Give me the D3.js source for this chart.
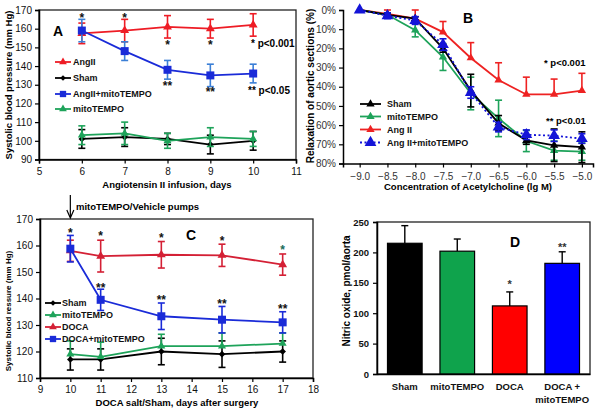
<!DOCTYPE html>
<html><head><meta charset="utf-8">
<script src="https://cdn.jsdelivr.net/npm/d3@7"></script>
<style>
body{margin:0;background:#fff}
text{font-family:"Liberation Sans",Arial,Helvetica,sans-serif}
</style>
</head><body>
<svg id="chart" width="600" height="412"></svg>
<script>
// ---------------- DATA ----------------
// Panel A
const daysA = [6, 7, 8, 9, 10];
const angII_A = [157.5, 159, 161, 160, 162];
const angII_A_err = [5.5, 6, 6, 5, 6];
const angIIMito_A = [159, 148, 138, 135, 136];
const angIIMito_A_err = [6, 5, 5, 6, 5];
const sham_A = [101, 102, 101, 98, 100];
const sham_A_err = [5, 5, 3, 5, 5];
const mito_A = [103, 104, 100, 102, 101];
const mito_A_err = [5, 6, 4, 5, 4];
const ticksA_x = [5, 6, 7, 8, 9, 10, 11];
const ticksA_y = [90, 100, 110, 120, 130, 140, 150, 160, 170];
const starsA = [{x:6,v:167,t:"*"},{x:7,v:167,t:"*"},{x:8,v:152.5,t:"*"},{x:9,v:152.5,t:"*"},{x:8,v:130.5,t:"**"},{x:9,v:127.5,t:"**"}];

// Panel B
const concB = [-9.0, -8.5, -8.0, -7.5, -7.0, -6.5, -6.0, -5.5, -5.0];
const sham_B = [0, 2.5, 4.5, 20, 42, 59, 68, 70.5, 71.5];
const sham_B_err = [0, 1, 1, 2, 8.5, 4, 2, 8.5, 8];
const mito_B = [0, 2.5, 10.5, 24.5, 43.5, 56.5, 68.3, 73.3, 73.8];
const mito_B_err = [0, 1, 3.5, 7, 8.5, 9.5, 5.5, 5, 4.5];
const angII_B = [0, 2, 4.5, 11.5, 25, 36.5, 44, 44, 42];
const angII_B_err = [0, 2, 4.5, 5.5, 8, 9, 9, 8, 9];
const angIIMito_B = [0, 3, 5.5, 18, 43, 61, 65, 65.5, 67];
const angIIMito_B_err = [0, 1.5, 2, 3, 3, 2.5, 2.5, 3, 2.5];
const ticksB_y = [0, 10, 20, 30, 40, 50, 60, 70, 80];

// Panel C
const daysC = [10, 11, 13, 15, 17];
const sham_C = [117, 117, 120, 119, 120];
const sham_C_err = [4, 4, 5, 5, 4];
const mito_C = [119, 118, 122, 122, 123];
const mito_C_err = [5, 5.5, 4.5, 5, 4];
const doca_C = [158, 156, 156.5, 156.3, 152.8];
const doca_C_err = [4, 6, 5, 4.2, 4];
const docaMito_C = [158.8, 139.5, 133.3, 132, 131];
const docaMito_C_err = [5, 4, 5, 5, 4];
const ticksC_x = [9, 10, 11, 12, 13, 14, 15, 16, 17, 18];
const ticksC_y = [110, 120, 130, 140, 150, 160, 170];
const starsC = [{x:10,v:165.8,t:"*"},{x:11,v:164.6,t:"*"},{x:13,v:164,t:"*"},{x:15,v:162.7,t:"*"},{x:17,v:159.2,t:"*",c:"#1b6b5a"},
                {x:11,v:145.1,t:"**"},{x:13,v:140.3,t:"**"},{x:15,v:138.8,t:"**"},{x:17,v:136.9,t:"**"}];

// Panel D
const groupsD = ["Sham", "mitoTEMPO", "DOCA", "DOCA +|mitoTEMPO"];
const no_D = [215, 202, 112, 182];
const no_D_err = [29, 20, 23, 19];
const colorsD = ["#000000", "#0fa34c", "#ff0000", "#0000ff"];
const starsD = [{g:"DOCA",v:152,t:"*"},{g:"DOCA +|mitoTEMPO",v:213,t:"**"}];
const ticksD_y = [0, 50, 100, 150, 200, 250];

// ---------------- DRAW ----------------
const svg = d3.select("#chart");

function sym(type, size) {
  return d3.symbol().type(type).size(size)();
}
const MK = {
  tri: (s) => sym(d3.symbolTriangle, s),
  sq: (s) => sym(d3.symbolSquare, s),
  dia: (s) => sym(d3.symbolSquare, s)
};
function drawMarker(g, kind, size, x, y, color) {
  const p = g.append("path").attr("d", MK[kind](size)).attr("fill", color);
  if (kind === "dia") p.attr("transform", `translate(${x},${y}) rotate(45)`);
  else p.attr("transform", `translate(${x},${y})`);
}

function styleAxis(ax, fs, bold, col) {
  ax.select(".domain").attr("stroke", "#000").attr("stroke-width", 1.5);
  ax.selectAll(".tick line").attr("stroke", "#000").attr("stroke-width", 1.2);
  ax.selectAll(".tick text").attr("font-size", fs).attr("fill", col || "#111")
    .attr("font-weight", bold ? "bold" : "normal")
    .style("font-family", '"Liberation Sans",Arial,sans-serif');
}

function drawSeries(g, xs, ys, s, xv) {
  const line = d3.line().x((d, i) => xs(xv[i])).y(d => ys(d));
  g.append("path").attr("d", line(s.vals)).attr("fill", "none")
    .attr("stroke", s.color).attr("stroke-width", s.lw || 1.8)
    .attr("stroke-dasharray", s.dash || null);
  // error bars
  s.vals.forEach((v, i) => {
    const e = s.err[i];
    if (!e) return;
    const x = xs(xv[i]);
    const dir = s.dir || "both";
    const segs = [];
    if (dir === "both" || dir === "up") segs.push(v + (s.inv ? -e : e));
    if (dir === "both" || dir === "down") segs.push(v - (s.inv ? -e : e));
    segs.forEach(t => {
      g.append("line").attr("x1", x).attr("x2", x).attr("y1", ys(v)).attr("y2", ys(t))
        .attr("stroke", s.ecolor || s.color).attr("stroke-width", 1.6);
      g.append("line").attr("x1", x - 3.5).attr("x2", x + 3.5).attr("y1", ys(t)).attr("y2", ys(t))
        .attr("stroke", s.ecolor || s.color).attr("stroke-width", 1.6);
    });
  });
  s.vals.forEach((v, i) => drawMarker(g, s.mk, s.ms, xs(xv[i]), ys(v), s.color));
}

function starText(g, x, yCenter, t, fs, color) {
  g.append("text").attr("x", x).attr("y", yCenter + fs * 0.55).attr("text-anchor", "middle")
    .attr("font-size", fs).attr("font-weight", "bold").attr("fill", color || "#111").text(t);
}

function legend(g, items, x0, x1, tx, fs) {
  items.forEach(it => {
    g.append("line").attr("x1", x0).attr("x2", x1).attr("y1", it.y).attr("y2", it.y)
      .attr("stroke", it.color).attr("stroke-width", 1.8).attr("stroke-dasharray", it.dash || null);
    drawMarker(g, it.mk, it.ms, (x0 + x1) / 2, it.y, it.color);
    g.append("text").attr("x", tx).attr("y", it.y + fs * 0.36).attr("font-size", fs)
      .attr("font-weight", "bold").attr("fill", "#111").text(it.name);
  });
}

// ===== Panel A =====
(function () {
  const g = svg.append("g");
  const x = d3.scaleLinear().domain([5, 11]).range([39, 296]);
  const y = d3.scaleLinear().domain([90, 170]).range([159.5, 10]);
  g.append("rect").attr("x", 39).attr("y", 10).attr("width", 257).attr("height", 149.5)
    .attr("fill", "none").attr("stroke", "#222").attr("stroke-width", 1.3);
  const ax = g.append("g").attr("transform", "translate(0,159.5)")
    .call(d3.axisBottom(x).tickValues(ticksA_x).tickSize(4).tickPadding(4).tickFormat(d3.format("d")));
  styleAxis(ax, 10);
  const ay = g.append("g").attr("transform", "translate(39,0)")
    .call(d3.axisLeft(y).tickValues(ticksA_y).tickSize(4).tickPadding(3).tickFormat(d3.format("d")));
  styleAxis(ay, 10);

  const series = [
    {vals: sham_A, err: sham_A_err, color: "#000", mk: "dia", ms: 22},
    {vals: mito_A, err: mito_A_err, color: "#1ea35a", mk: "tri", ms: 28},
    {vals: angII_A, err: angII_A_err, color: "#ee1c25", mk: "tri", ms: 34},
    {vals: angIIMito_A, err: angIIMito_A_err, color: "#1a2bd8", ecolor: "#3b7fd6", mk: "sq", ms: 64}
  ];
  series.forEach(s => drawSeries(g, x, y, s, daysA));
  starsA.forEach(s => starText(g, x(s.x), y(s.v), s.t, 12));

  g.append("text").attr("x", 251).attr("y", 47).attr("font-size", 10).attr("font-weight", "bold").text("* p<0.001");
  g.append("text").attr("x", 248).attr("y", 94).attr("font-size", 10).attr("font-weight", "bold").text("** p<0.05");
  g.append("text").attr("x", 53).attr("y", 36).attr("font-size", 14).attr("font-weight", "bold").text("A");

  legend(g, [
    {name: "AngII", color: "#ee1c25", mk: "tri", ms: 26, y: 62},
    {name: "Sham", color: "#000", mk: "dia", ms: 16, y: 78},
    {name: "AngII+mitoTEMPO", color: "#1a2bd8", mk: "sq", ms: 40, y: 94},
    {name: "mitoTEMPO", color: "#1ea35a", mk: "tri", ms: 26, y: 109}
  ], 55, 71, 73, 9);

  g.append("text").attr("x", 167).attr("y", 188).attr("text-anchor", "middle").attr("font-size", 9.5)
    .attr("font-weight", "bold").text("Angiotensin II infusion, days");
  g.append("text").attr("transform", "translate(12,85) rotate(-90)").attr("text-anchor", "middle")
    .attr("font-size", 9.5).attr("font-weight", "bold").text("Systolic blood pressure (mm Hg)");
})();

// ===== Panel B =====
(function () {
  const g = svg.append("g");
  const x = d3.scaleLinear().domain([-9.3, -4.8]).range([343, 593]);
  const y = d3.scaleLinear().domain([0, 80]).range([10, 163.5]);
  const ax = g.append("g").attr("transform", "translate(0,163.5)")
    .call(d3.axisBottom(x).tickValues(concB).tickSize(4).tickPadding(5).tickFormat(d3.format(".1f")));
  styleAxis(ax, 10, false, "#333");
  const ay = g.append("g").attr("transform", "translate(343,0)")
    .call(d3.axisLeft(y).tickValues(ticksB_y).tickSize(4).tickPadding(3).tickFormat(d => d + "%"));
  styleAxis(ay, 10, false, "#333");

  const series = [
    {vals: angII_B, err: angII_B_err, color: "#ee2222", mk: "tri", ms: 30, dir: "up", inv: true},
    {vals: mito_B, err: mito_B_err, color: "#1ea35a", mk: "tri", ms: 30},
    {vals: sham_B, err: sham_B_err, color: "#000", mk: "tri", ms: 30},
    {vals: angIIMito_B, err: angIIMito_B_err, color: "#1414d8", mk: "tri", ms: 60, dash: "2,2.5", lw: 1.8}
  ];
  series.forEach(s => drawSeries(g, x, y, s, concB));

  g.append("text").attr("x", 468).attr("y", 23).attr("text-anchor", "middle").attr("font-size", 14).attr("font-weight", "bold").text("B");
  g.append("text").attr("x", 544).attr("y", 66).attr("font-size", 9.5).attr("font-weight", "bold").text("* p<0.001");
  g.append("text").attr("x", 546).attr("y", 124).attr("font-size", 9.5).attr("font-weight", "bold").text("** p<0.01");

  legend(g, [
    {name: "Sham", color: "#000", mk: "tri", ms: 30, y: 104},
    {name: "mitoTEMPO", color: "#1ea35a", mk: "tri", ms: 30, y: 116.5},
    {name: "Ang II", color: "#ee2222", mk: "tri", ms: 30, y: 129.5},
    {name: "Ang II+mitoTEMPO", color: "#1414d8", mk: "tri", ms: 60, y: 142.5, dash: "2,2.5"}
  ], 360, 381, 387, 9);

  g.append("text").attr("x", 468).attr("y", 190).attr("text-anchor", "middle").attr("font-size", 9.5)
    .attr("font-weight", "bold").text("Concentration of Acetylcholine (lg M)");
  g.append("text").attr("transform", "translate(314,86) rotate(-90)").attr("text-anchor", "middle")
    .attr("font-size", 10).attr("font-weight", "bold").text("Relaxation of aortic sections (%)");
})();

// ===== Panel C =====
(function () {
  const g = svg.append("g");
  const x = d3.scaleLinear().domain([9, 18]).range([40, 313]);
  const y = d3.scaleLinear().domain([110, 170]).range([378, 219]);
  g.append("rect").attr("x", 40).attr("y", 219).attr("width", 273).attr("height", 159)
    .attr("fill", "none").attr("stroke", "#222").attr("stroke-width", 1.3);
  const ax = g.append("g").attr("transform", "translate(0,378)")
    .call(d3.axisBottom(x).tickValues(ticksC_x).tickSize(4).tickPadding(4).tickFormat(d3.format("d")));
  styleAxis(ax, 10);
  const ay = g.append("g").attr("transform", "translate(40,0)")
    .call(d3.axisLeft(y).tickValues(ticksC_y).tickSize(4).tickPadding(3).tickFormat(d3.format("d")));
  styleAxis(ay, 10);

  const series = [
    {vals: sham_C, err: sham_C_err, color: "#000", mk: "dia", ms: 22},
    {vals: mito_C, err: mito_C_err, color: "#1ea35a", mk: "tri", ms: 28, dir: "up"},
    {vals: doca_C, err: doca_C_err, color: "#d42035", mk: "tri", ms: 34},
    {vals: docaMito_C, err: docaMito_C_err, color: "#1a2bd8", mk: "sq", ms: 64}
  ];
  series.forEach(s => drawSeries(g, x, y, s, daysC));
  starsC.forEach(s => starText(g, x(s.x), y(s.v), s.t, 12, s.c));

  g.append("text").attr("x", 186).attr("y", 240).attr("font-size", 14).attr("font-weight", "bold").text("C");

  legend(g, [
    {name: "Sham", color: "#000", mk: "dia", ms: 16, y: 303},
    {name: "mitoTEMPO", color: "#1ea35a", mk: "tri", ms: 26, y: 315},
    {name: "DOCA", color: "#d42035", mk: "tri", ms: 26, y: 327},
    {name: "DOCA+mitoTEMPO", color: "#1a2bd8", mk: "sq", ms: 40, y: 339}
  ], 45, 61, 62, 9);

  // arrow
  g.append("line").attr("x1", x(10)).attr("x2", x(10)).attr("y1", 195).attr("y2", 217)
    .attr("stroke", "#000").attr("stroke-width", 1.2);
  g.append("path").attr("d", `M${x(10) - 3.5},${210} L${x(10)},${218} L${x(10) + 3.5},${210}`)
    .attr("fill", "none").attr("stroke", "#000").attr("stroke-width", 1.2);
  g.append("text").attr("x", 76).attr("y", 210).attr("font-size", 9.5).attr("font-weight", "bold")
    .text("mitoTEMPO/Vehicle pumps");

  g.append("text").attr("x", 177).attr("y", 406).attr("text-anchor", "middle").attr("font-size", 9.5)
    .attr("font-weight", "bold").text("DOCA salt/Sham, days after surgery");
  g.append("text").attr("transform", "translate(11,311) rotate(-90)").attr("text-anchor", "middle")
    .attr("font-size", 8).attr("font-weight", "bold").text("Systolic blood ressure (mm Hg)");
})();

// ===== Panel D =====
(function () {
  const g = svg.append("g");
  const x = d3.scaleBand().domain(groupsD).range([377, 590]).paddingInner(0.34).paddingOuter(0.2);
  const y = d3.scaleLinear().domain([0, 250]).range([374, 222]);
  g.append("rect").attr("x", 377).attr("y", 222).attr("width", 213).attr("height", 152)
    .attr("fill", "none").attr("stroke", "#222").attr("stroke-width", 1.3);

  groupsD.forEach((gr, i) => {
    const cx = x(gr) + x.bandwidth() / 2;
    g.append("line").attr("x1", cx).attr("x2", cx).attr("y1", y(no_D[i])).attr("y2", y(no_D[i] + no_D_err[i]))
      .attr("stroke", "#000").attr("stroke-width", 1.4);
    g.append("line").attr("x1", cx - 3.5).attr("x2", cx + 3.5).attr("y1", y(no_D[i] + no_D_err[i])).attr("y2", y(no_D[i] + no_D_err[i]))
      .attr("stroke", "#000").attr("stroke-width", 1.4);
    g.append("rect").attr("x", x(gr)).attr("y", y(no_D[i])).attr("width", x.bandwidth())
      .attr("height", y(0) - y(no_D[i])).attr("fill", colorsD[i]).attr("stroke", "#000").attr("stroke-width", 1.2);
  });
  starsD.forEach(s => starText(g, x(s.g) + x.bandwidth() / 2, y(s.v), s.t, 11, "#333"));

  const ay = g.append("g").attr("transform", "translate(377,0)")
    .call(d3.axisLeft(y).tickValues(ticksD_y).tickSize(4).tickPadding(4).tickFormat(d3.format("d")));
  styleAxis(ay, 9.5, true);
  const ax = g.append("g").attr("transform", "translate(0,374)")
    .call(d3.axisBottom(x).tickSize(0).tickFormat(""));
  ax.select(".domain").attr("stroke", "#000").attr("stroke-width", 1.5);
  groupsD.forEach(gr => {
    const lines = gr.split("|");
    const t = g.append("text").attr("x", x(gr) + x.bandwidth() / 2).attr("y", 390)
      .attr("text-anchor", "middle").attr("font-size", 9.5).attr("font-weight", "bold").attr("fill", "#111");
    lines.forEach((l, k) => t.append("tspan").attr("x", x(gr) + x.bandwidth() / 2).attr("dy", k ? 12.5 : 0).text(l));
  });

  g.append("text").attr("x", 510).attr("y", 247).attr("font-size", 14).attr("font-weight", "bold").text("D");
  g.append("text").attr("transform", "translate(350,291) rotate(-90)").attr("text-anchor", "middle")
    .attr("font-size", 10).attr("font-weight", "bold").text("Nitric oxide, pmol/aorta");
})();
</script>
</body></html>
